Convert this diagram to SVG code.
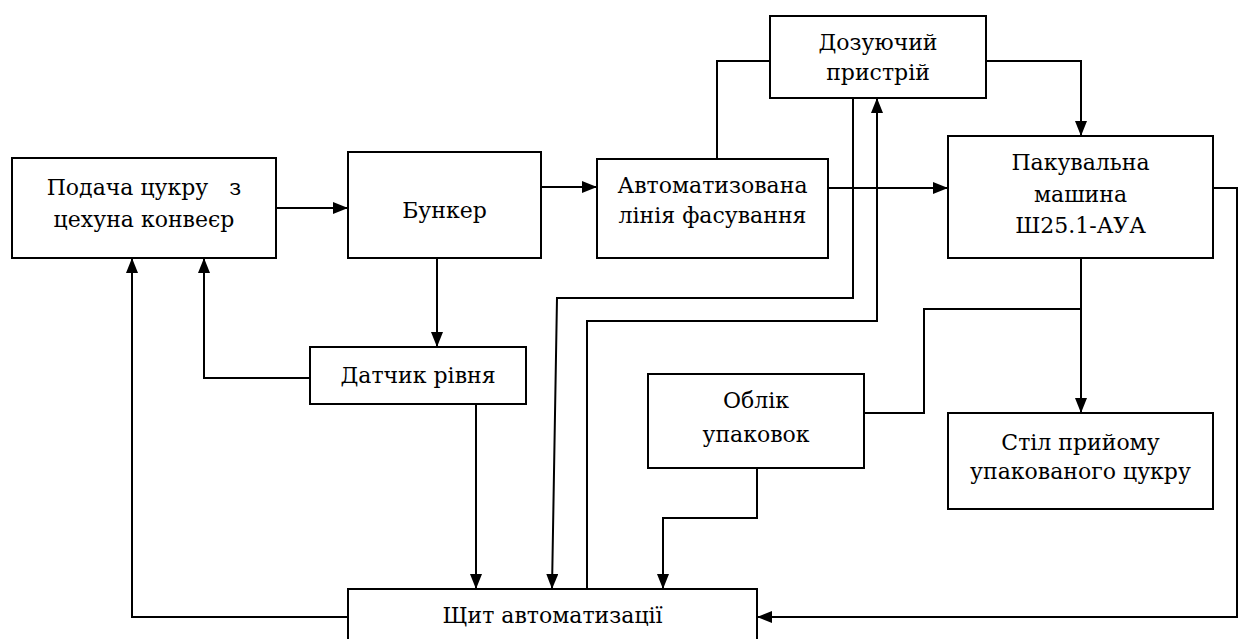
<svg xmlns="http://www.w3.org/2000/svg" width="1243" height="639" viewBox="0 0 1243 639">
<style>
.box{fill:#fff;stroke:#000;stroke-width:2}
text{font-family:'DejaVu Serif','Liberation Serif',serif;font-size:22px;fill:#000;text-anchor:middle;white-space:pre}
.c{fill:none;stroke:#000;stroke-width:2}
.a{marker-end:url(#arr)}
</style>
<defs>
<marker id="arr" viewBox="0 0 15 12" refX="15" refY="6" markerWidth="15" markerHeight="12" markerUnits="userSpaceOnUse" orient="auto">
<path d="M0,0 L15,6 L0,12 z" fill="#000"/>
</marker>
</defs>
<rect width="1243" height="639" fill="#fff"/>
<g id="connectors">
<path class="c a" d="M276,208 H348"/>
<path class="c a" d="M541,187 H597"/>
<path class="c a" d="M828,188 H948"/>
<path class="c" d="M717,159 V61 H770"/>
<path class="c a" d="M986,61 H1081 V136"/>
<path class="c a" d="M853,98 V298 H557 L552,589"/>
<path class="c a" d="M587,589 V321 H877 V98"/>
<path class="c a" d="M437,258 V347"/>
<path class="c a" d="M310,378 H204 V258"/>
<path class="c a" d="M476,404 V589"/>
<path class="c a" d="M348,617 H132 V258"/>
<path class="c a" d="M1081,258 V413"/>
<path class="c" d="M1081,309 H924 V413 H864"/>
<path class="c a" d="M757,468 V518 H663 V589"/>
<path class="c a" d="M1213,188 H1237 V617 H757"/>
</g>
<g id="podacha">
<rect class="box" x="12" y="158" width="264" height="100"/>
<text x="144" y="195">Подача цукру   з</text>
<text x="144" y="227">цехуна конвеєр</text>
</g>
<g id="bunker">
<rect class="box" x="348" y="152" width="193" height="106"/>
<text x="444.5" y="218">Бункер</text>
</g>
<g id="liniya">
<rect class="box" x="597" y="159" width="231" height="99"/>
<text x="712.5" y="193">Автоматизована</text>
<text x="712.5" y="223">лінія фасування</text>
</g>
<g id="dozuyuchyi">
<rect class="box" x="770" y="16" width="216" height="82"/>
<text x="878" y="50">Дозуючий</text>
<text x="878" y="80">пристрій</text>
</g>
<g id="pakuvalna">
<rect class="box" x="948" y="136" width="265" height="122"/>
<text x="1080.5" y="170">Пакувальна</text>
<text x="1080.5" y="202">машина</text>
<text x="1080.5" y="233">Ш25.1-АУА</text>
</g>
<g id="datchyk">
<rect class="box" x="310" y="347" width="216" height="57"/>
<text x="418" y="383">Датчик рівня</text>
</g>
<g id="oblik">
<rect class="box" x="648" y="374" width="216" height="94"/>
<text x="756" y="408">Облік</text>
<text x="756" y="442">упаковок</text>
</g>
<g id="stil">
<rect class="box" x="948" y="413" width="265" height="96"/>
<text x="1080.5" y="450">Стіл прийому</text>
<text x="1080.5" y="479">упакованого цукру</text>
</g>
<g id="shchyt">
<rect class="box" x="348" y="589" width="409" height="60"/>
<text x="552.5" y="623">Щит автоматизації</text>
</g>
</svg>
